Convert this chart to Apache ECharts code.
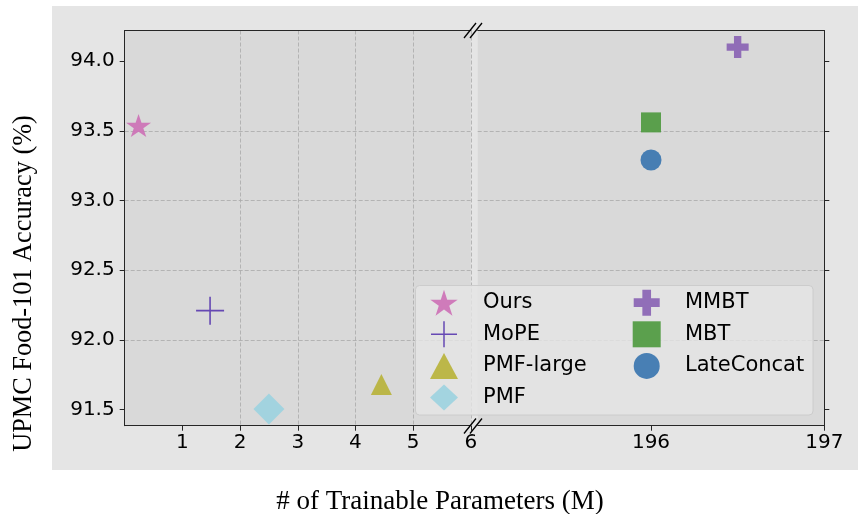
<!DOCTYPE html>
<html><head><meta charset="utf-8">
<script src="https://cdn.jsdelivr.net/npm/echarts@6/dist/echarts.min.js"></script>
<style>html,body{margin:0;padding:0;background:#fff}#c{width:858px;height:514px}</style>
</head><body><div id="c"></div>
<script>
// ---- data ----
const methods   = ['Ours', 'MoPE', 'PMF-large', 'PMF', 'MMBT', 'MBT', 'LateConcat'];
const params    = [0.24, 1.48, 4.45, 2.50, 196.50, 196.00, 196.00];   // trainable params (M)
const accuracy  = [93.53, 92.21, 91.68, 91.505, 94.10, 93.56, 93.29]; // UPMC Food-101 acc (%)
const leftMethods  = ['Ours', 'MoPE', 'PMF-large', 'PMF'];
const rightMethods = ['MMBT', 'MBT', 'LateConcat'];
const yTicks      = [91.5, 92.0, 92.5, 93.0, 93.5, 94.0];
const xLeftTicks  = [1, 2, 3, 4, 5, 6];
const xRightTicks = [196, 197];
const xLeftRange  = [0, 6];
const xRightRange = [195, 197];
const yRange      = [91.385, 94.219];

// ---- styles ----
const colors = {
  'Ours': '#cd72b6', 'MoPE': '#5b3cb0', 'PMF-large': '#b8b33c', 'PMF': '#9dd3e0',
  'MMBT': '#8a64b4', 'MBT': '#4f9a40', 'LateConcat': '#3b76b0'
};
const starPath = 'path://M50,0L61.23,34.55L97.55,34.55L68.17,55.9L79.39,90.45L50,69.1L20.61,90.45L31.83,55.9L2.45,34.55L38.77,34.55Z';
const thinPlus = 'path://M13.2,0h1.6v28h-1.6zM0,13.2h28v1.6h-28z';
const thickPlus = 'path://M1,0h1v1h1v1h-1v1h-1v-1h-1v-1h1z';
const symbols = {
  'Ours': [starPath, [25, 23], [0, -1]],
  'MoPE': [thinPlus, 28, [0, 0]],
  'PMF-large': ['triangle', [21, 21], [0, 0]],
  'PMF': ['diamond', [31, 31], [0, 0]],
  'MMBT': [thickPlus, 22, [0, 0]],
  'MBT': ['rect', 20, [0, 0]],
  'LateConcat': ['circle', 21, [0, 0]]
};

const spine = {color: '#262626', width: 1};
const grid = {type: [4, 2], color: '#a9a9a9', width: 0.8};
const tickFont = {fontSize: 20, fontFamily: 'DejaVu Sans', color: '#000'};
const legendFont = {fontSize: 21, fontFamily: 'DejaVu Sans', color: '#000'};

const series = methods.map((m, i) => {
  const right = params[i] > 100;
  return {
    name: m, type: 'scatter',
    xAxisIndex: right ? 1 : 0, yAxisIndex: right ? 1 : 0,
    symbol: symbols[m][0], symbolSize: symbols[m][1], symbolOffset: symbols[m][2],
    itemStyle: {color: colors[m], opacity: 0.92},
    data: [[params[i], accuracy[i]]]
  };
});

function yAxisDef(gi, pos, labels) {
  return {
    type: 'value', gridIndex: gi, position: pos, min: yRange[0], max: yRange[1],
    minInterval: 0.5, maxInterval: 0.5,
    axisLine: {show: true, lineStyle: spine},
    axisTick: {show: true, length: 5, lineStyle: spine, customValues: yTicks},
    axisLabel: {show: labels, customValues: yTicks, margin: 10, ...tickFont,
      formatter: v => v.toFixed(1)},
    splitLine: {show: true, showMinLine: false, showMaxLine: false, lineStyle: grid}
  };
}

const option = {
  backgroundColor: '#e5e5e5',
  animation: false,
  grid: [
    {left: 124.7, top: 30.5, width: 346.1, height: 395.2, show: true, backgroundColor: '#d9d9d9', borderWidth: 0},
    {left: 477.7, top: 30.5, width: 346.6, height: 395.2, show: true, backgroundColor: '#d9d9d9', borderWidth: 0}
  ],
  xAxis: [
    {type: 'value', gridIndex: 0, position: 'bottom', min: xLeftRange[0], max: xLeftRange[1], interval: 1,
     axisLine: {show: true, lineStyle: spine},
     axisTick: {show: true, length: 5, lineStyle: spine, customValues: xLeftTicks},
     axisLabel: {customValues: xLeftTicks, margin: 7, ...tickFont},
     splitLine: {show: true, showMinLine: false, showMaxLine: true, lineStyle: grid}},
    {type: 'value', gridIndex: 1, position: 'bottom', min: xRightRange[0], max: xRightRange[1], interval: 1,
     axisLine: {show: true, lineStyle: spine},
     axisTick: {show: true, length: 5, lineStyle: spine, customValues: xRightTicks},
     axisLabel: {customValues: xRightTicks, margin: 7, ...tickFont},
     splitLine: {show: true, showMinLine: false, showMaxLine: false, lineStyle: grid}},
    {type: 'value', gridIndex: 0, position: 'top', min: xLeftRange[0], max: xLeftRange[1],
     axisLine: {show: true, lineStyle: spine}, axisTick: {show: false}, axisLabel: {show: false}, splitLine: {show: false}},
    {type: 'value', gridIndex: 1, position: 'top', min: xRightRange[0], max: xRightRange[1],
     axisLine: {show: true, lineStyle: spine}, axisTick: {show: false}, axisLabel: {show: false}, splitLine: {show: false}}
  ],
  yAxis: [yAxisDef(0, 'left', true), yAxisDef(1, 'right', false)],
  legend: [
    {data: leftMethods, orient: 'vertical', left: 430, top: 289.7, padding: 0, itemGap: 5.6,
     itemWidth: 28, itemHeight: 26, selectedMode: false,
     textStyle: {...legendFont, padding: [0, 0, 0, 20]}},
    {data: rightMethods, orient: 'vertical', left: 632.7, top: 289.7, padding: 0, itemGap: 5.6,
     itemWidth: 28, itemHeight: 26, selectedMode: false,
     textStyle: {...legendFont, padding: [0, 0, 0, 19.3]}}
  ],
  graphic: [
    {type: 'rect', z: 0, shape: {x: 0, y: 0, width: 52, height: 514}, style: {fill: '#fff'}, silent: true},
    {type: 'rect', z: 0, shape: {x: 0, y: 0, width: 858, height: 6}, style: {fill: '#fff'}, silent: true},
    {type: 'rect', z: 0, shape: {x: 0, y: 470, width: 858, height: 44}, style: {fill: '#fff'}, silent: true},
    {type: 'rect', z: 3, shape: {x: 415.5, y: 285.5, width: 397.5, height: 129.5, r: 4},
     style: {fill: 'rgba(229,229,229,0.8)', stroke: '#cccccc', lineWidth: 1}, silent: true},
    {type: 'line', z: 10, shape: {x1: 464, y1: 38, x2: 476, y2: 23}, style: {stroke: '#000', lineWidth: 1.3}},
    {type: 'line', z: 10, shape: {x1: 470, y1: 38, x2: 482, y2: 23}, style: {stroke: '#000', lineWidth: 1.3}},
    {type: 'line', z: 10, shape: {x1: 464, y1: 433.5, x2: 476, y2: 418.5}, style: {stroke: '#000', lineWidth: 1.3}},
    {type: 'line', z: 10, shape: {x1: 470, y1: 433.5, x2: 482, y2: 418.5}, style: {stroke: '#000', lineWidth: 1.3}},
    {type: 'text', z: 10, x: 440, y: 502,
     style: {text: '# of Trainable Parameters (M)', align: 'center', verticalAlign: 'middle',
             font: '27px "Liberation Serif"', fill: '#000'}},
    {type: 'text', z: 10, x: 24, y: 283.5, rotation: Math.PI / 2,
     style: {text: 'UPMC Food-101 Accuracy (%)', x: 0, y: 0, align: 'center', verticalAlign: 'middle',
             font: '26.3px "Liberation Serif"', fill: '#000'}}
  ],
  series: series
};

const chart = echarts.init(document.getElementById('c'), null, {renderer: 'canvas'});
chart.setOption(option);
</script>
</body></html>
